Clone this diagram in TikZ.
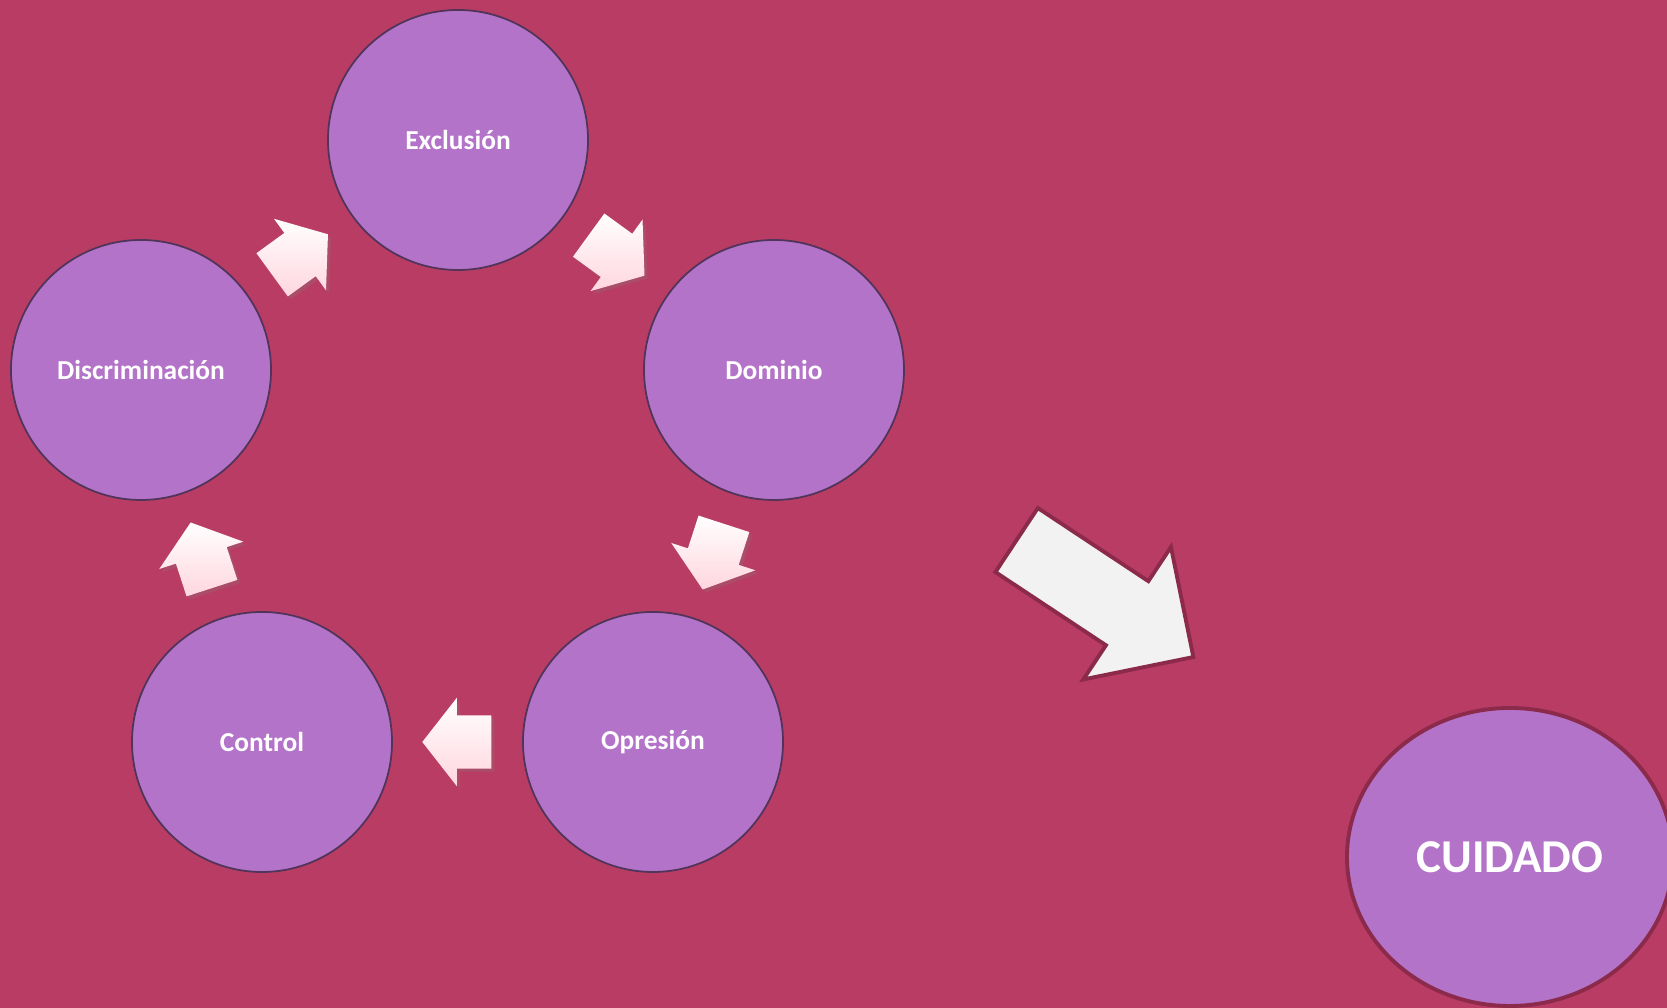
\documentclass[tikz,border=0pt]{standalone}
\usepackage{fontspec}
\setmainfont{Carlito}
\usetikzlibrary{shapes.geometric,shapes.arrows,shadows,calc}
\definecolor{bgrose}{HTML}{B93C64}
\definecolor{lilac}{HTML}{B373C8}
\definecolor{rimplum}{HTML}{8B2A4B}
\definecolor{blush}{HTML}{FFD6DF}
\definecolor{paper}{HTML}{F2F2F2}
\tikzset{
  stage/.style={circle, minimum size=2.6cm, inner sep=0pt, fill=lilac,
    draw=lilac!45!black, line width=0.5pt, text=white,
    font=\fontsize{7.8}{9}\selectfont\bfseries},
  cyclearrow/.style={single arrow, rotate=#1, anchor=tail, inner xsep=0pt, inner ysep=0.26cm,
    minimum height=0.69cm, minimum width=0.87cm,
    single arrow head extend=0.175cm, single arrow tip angle=104,
    top color=white, bottom color=blush,
    drop shadow={opacity=0.25, shadow xshift=0.03cm, shadow yshift=-0.03cm}},
  bigarrow/.style={single arrow, rotate=-33.5, anchor=tail, inner xsep=0pt, inner ysep=0.365cm,
    minimum height=2.12cm, minimum width=1.55cm,
    single arrow head extend=0.41cm, single arrow tip angle=90,
    fill=paper, draw=rimplum, line width=1.1pt},
  care/.style={ellipse, minimum width=3.26cm, minimum height=2.98cm,
    fill=lilac, draw=rimplum, line width=1.1pt, text=white,
    font=\fontsize{13.4}{16}\selectfont\bfseries}
}
\begin{document}
\begin{tikzpicture}
\useasboundingbox (0,0) rectangle (16.67,10.08);
\fill[bgrose] (0,0) rectangle (16.67,10.08);
\clip (0,0) rectangle (16.67,10.08);
% cycle
\node[stage] (excl) at (4.58,8.68) {Exclusión};
\node[stage] (dom) at (7.74,6.38) {Dominio};
\node[stage] (opr) at (6.53,2.66) {Opresión};
\node[stage] (ctrl) at (2.62,2.66) {Control};
\node[stage] (disc) at (1.41,6.38) {Discriminación};
\node[cyclearrow=36] (discexcl) at ($(disc)!0.5!(excl)!0.345cm!(disc)$) {};
\node[cyclearrow=-36] (excldom) at ($(excl)!0.5!(dom)!0.345cm!(excl)$) {};
\node[cyclearrow=-108] (domopr) at ($(dom)!0.5!(opr)!0.345cm!(dom)$) {};
\node[cyclearrow=180] (oprctrl) at ($(opr)!0.5!(ctrl)!0.345cm!(opr)$) {};
\node[cyclearrow=108] (ctrldisc) at ($(ctrl)!0.5!(disc)!0.345cm!(ctrl)$) {};
% way out
\node[bigarrow] (wayout) at (10.15,4.69) {};
\node[care] (cuidado) at (15.10,1.51) {CUIDADO};
\end{tikzpicture}
\end{document}
